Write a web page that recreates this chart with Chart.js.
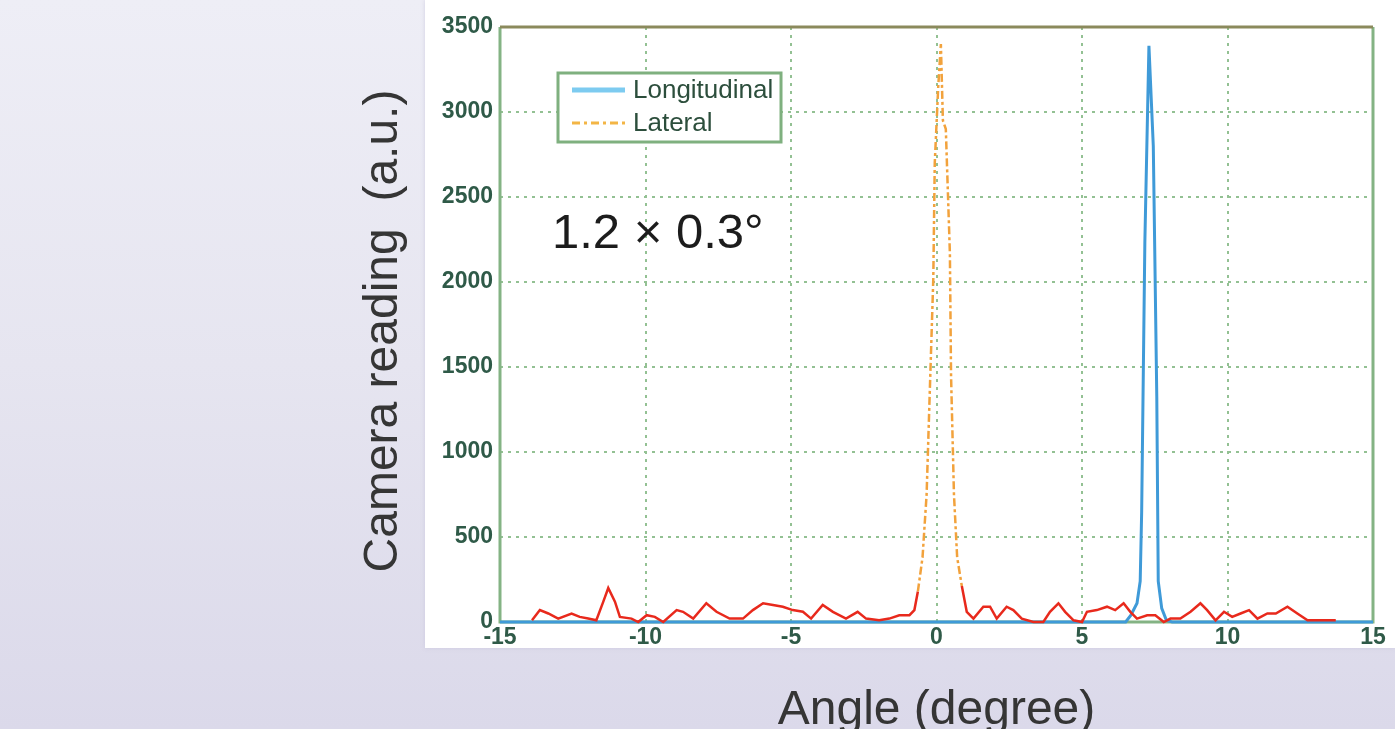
<!DOCTYPE html>
<html>
<head>
<meta charset="utf-8">
<script src="https://cdn.jsdelivr.net/npm/chart.js@4/dist/chart.umd.min.js"></script>
<style>
  html, body { margin: 0; padding: 0; }
  body {
    width: 1395px; height: 729px; overflow: hidden; position: relative;
    background: linear-gradient(180deg, #eeeef6 0%, #e6e5f0 50%, #dbd9ea 100%);
  }
  #panel {
    position: absolute; left: 425px; top: 0; width: 970px; height: 648px;
    background: #ffffff;
    box-shadow: 0 0 4px rgba(200, 198, 220, 0.8);
  }
  #chart { position: absolute; left: 0; top: 0; }
</style>
</head>
<body>
<div id="panel"></div>
<canvas id="chart" width="1395" height="729"></canvas>
<script>
// angle (degree) / camera reading
const lateralAngle = [
  -13.9, -13.63, -13.34, -13.0, -12.54, -12.26, -11.97, -11.69, -11.45, -11.28,
  -11.05, -10.88, -10.48, -10.25, -9.96, -9.68, -9.39, -8.93, -8.71, -8.36,
  -7.91, -7.56, -7.11, -6.65, -6.31, -5.96, -5.62, -5.28, -4.94, -4.59,
  -4.31, -3.91, -3.56, -3.11, -2.71, -2.42, -1.97, -1.62, -1.28, -0.93,
  -0.76, -0.64, -0.48, -0.34, -0.23, -0.11, -0.06, 0.06, 0.15, 0.22,
  0.32, 0.46, 0.5, 0.6, 0.71, 0.87, 1.04, 1.27, 1.61, 1.84,
  2.07, 2.41, 2.64, 2.93, 3.33, 3.67, 3.9, 4.19, 4.42, 4.71,
  5.0, 5.17, 5.51, 5.86, 6.14, 6.43, 6.66, 6.89, 7.24, 7.52,
  7.81, 8.04, 8.38, 8.73, 9.07, 9.3, 9.59, 9.88, 10.16, 10.45,
  10.74, 11.03, 11.37, 11.66, 12.06, 12.4, 12.75, 13.2, 13.72
];
const lateralReading = [
  10, 70, 50, 20, 50, 30, 20, 10, 120, 200,
  120, 30, 20, 0, 40, 30, 0, 70, 60, 20,
  110, 60, 20, 20, 70, 110, 100, 90, 70, 60,
  20, 100, 60, 20, 60, 20, 10, 20, 40, 40,
  70, 180, 380, 750, 1360, 2020, 2700, 3150, 3400, 2950,
  2900, 2170, 1450, 750, 380, 212, 60, 20, 90, 90,
  20, 90, 70, 20, 0, 0, 60, 110, 60, 10,
  0, 60, 70, 90, 70, 110, 60, 20, 40, 40,
  0, 20, 20, 60, 110, 70, 10, 60, 30, 50,
  70, 20, 50, 50, 90, 50, 10, 10, 10
];
const longAngle = [-15, 6.5, 6.68, 6.89, 7.0, 7.05, 7.16, 7.3, 7.45, 7.57, 7.62, 7.74, 7.9, 8.1, 15];
const longReading = [0, 0, 40, 110, 240, 645, 2235, 3390, 2800, 1325, 240, 80, 10, 0, 0];

const xTicks = [-15, -10, -5, 0, 5, 10, 15];
const yTicks = [0, 500, 1000, 1500, 2000, 2500, 3000, 3500];
const seriesNames = ["Longitudinal", "Lateral"];
const annotationText = "1.2 \u00d7 0.3\u00b0";

const toPoints = (xs, ys) => xs.map((x, i) => ({ x: x, y: ys[i] }));
const steep = ctx => ctx.p0.parsed.y > 300 || ctx.p1.parsed.y > 300;

const frameAndText = {
  id: "frameAndText",
  beforeDatasetsDraw(chart) {
    const { ctx, chartArea: a } = chart;
    ctx.save();
    ctx.lineWidth = 3;
    ctx.strokeStyle = "#84b384";
    ctx.beginPath();
    ctx.moveTo(a.left, a.top); ctx.lineTo(a.left, a.bottom);
    ctx.lineTo(a.right, a.bottom); ctx.lineTo(a.right, a.top);
    ctx.stroke();
    ctx.strokeStyle = "#8b8a5c";
    ctx.beginPath();
    ctx.moveTo(a.left, a.top); ctx.lineTo(a.right, a.top);
    ctx.stroke();
    ctx.restore();
  },
  afterDraw(chart) {
    const { ctx, chartArea: a } = chart;
    ctx.save();
    // legend
    ctx.fillStyle = "#ffffff";
    ctx.fillRect(558, 73, 223, 69);
    ctx.lineWidth = 3;
    ctx.strokeStyle = "#7fb07f";
    ctx.strokeRect(558, 73, 223, 69);
    const rows = [90, 123];
    chart.data.datasets.forEach((ds, i) => {
      ctx.lineWidth = i === 0 ? 5 : 3;
      ctx.strokeStyle = ds.legendColor;
      ctx.setLineDash(i === 0 ? [] : [8, 4, 3, 4]);
      ctx.beginPath();
      ctx.moveTo(572, rows[i]); ctx.lineTo(625, rows[i]);
      ctx.stroke();
      ctx.setLineDash([]);
      ctx.fillStyle = "#2c4e3c";
      ctx.font = "26px 'Liberation Sans', Arial, sans-serif";
      ctx.textBaseline = "middle";
      ctx.textAlign = "left";
      ctx.fillText(ds.label, 633, rows[i] + 1);
    });
    // annotation
    ctx.fillStyle = "#1c1c1c";
    ctx.font = "49px 'Liberation Sans', Arial, sans-serif";
    ctx.textBaseline = "alphabetic";
    ctx.fillText(annotationText, 552, 248);
    // axis titles
    ctx.fillStyle = "#353535";
    ctx.font = "48px 'Liberation Sans', Arial, sans-serif";
    ctx.textAlign = "center";
    ctx.fillText("Angle (degree)", (a.left + a.right) / 2, 724);
    ctx.translate(397, 331);
    ctx.rotate(-Math.PI / 2);
    ctx.fillText("Camera reading  (a.u.)", 0, 0);
    ctx.restore();
  }
};

const tickFont = { family: "'Liberation Sans', Arial, sans-serif", size: 23, weight: "bold" };

new Chart(document.getElementById("chart").getContext("2d"), {
  type: "line",
  data: {
    datasets: [
      {
        label: seriesNames[0],
        data: toPoints(longAngle, longReading),
        borderColor: "#3f9ad8",
        legendColor: "#7dcbf0",
        borderWidth: 3,
        pointRadius: 0,
        clip: false,
        order: 2
      },
      {
        label: seriesNames[1],
        data: toPoints(lateralAngle, lateralReading),
        borderColor: "#e8291c",
        legendColor: "#f3b545",
        borderWidth: 2.5,
        pointRadius: 0,
        clip: false,
        order: 1,
        segment: {
          borderColor: ctx => (steep(ctx) ? "#f2a23c" : undefined),
          borderDash: ctx => (steep(ctx) ? [8, 3, 3, 3] : undefined)
        }
      }
    ]
  },
  options: {
    responsive: false,
    animation: false,
    devicePixelRatio: 1,
    layout: { padding: { left: 425, right: 22, top: 27, bottom: 67 } },
    plugins: { legend: { display: false }, tooltip: { enabled: false } },
    scales: {
      x: {
        type: "linear",
        min: xTicks[0],
        max: xTicks[xTicks.length - 1],
        afterBuildTicks: s => { s.ticks = xTicks.map(v => ({ value: v })); },
        afterFit: s => { s.height = 40; s.paddingLeft = 0; s.paddingRight = 0; },
        grid: { color: "#93c193", lineWidth: 2, drawTicks: false },
        border: { display: false, dash: [3, 5] },
        ticks: { color: "#2f5a48", font: tickFont, padding: 2, maxRotation: 0, callback: v => String(v) }
      },
      y: {
        min: yTicks[0],
        max: yTicks[yTicks.length - 1],
        afterBuildTicks: s => { s.ticks = yTicks.map(v => ({ value: v })); },
        afterFit: s => { s.width = 75; s.paddingTop = 0; s.paddingBottom = 0; },
        grid: { color: "#93c193", lineWidth: 2, drawTicks: false },
        border: { display: false, dash: [3, 5] },
        ticks: { color: "#2f5a48", font: tickFont, padding: 7, callback: v => String(v) }
      }
    }
  },
  plugins: [frameAndText]
});
</script>
</body>
</html>
